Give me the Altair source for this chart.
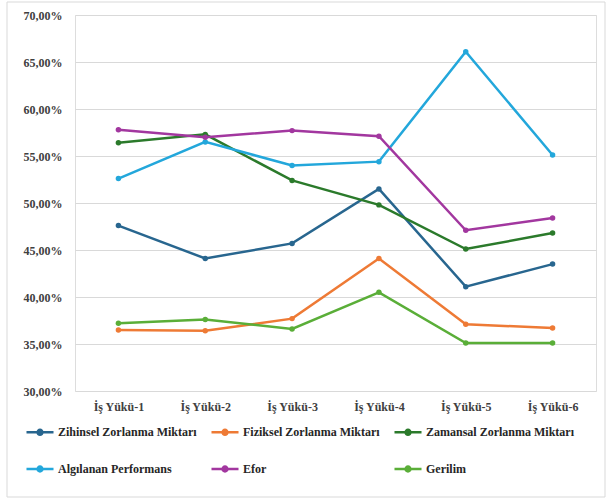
import altair as alt
import pandas as pd

# Workload stages on the x axis
stages = ["İş Yükü-1", "İş Yükü-2", "İş Yükü-3", "İş Yükü-4", "İş Yükü-5", "İş Yükü-6"]

# Series names and their colours
series = [
    "Zihinsel Zorlanma Miktarı",
    "Fiziksel Zorlanma Miktarı",
    "Zamansal Zorlanma Miktarı",
    "Algılanan Performans",
    "Efor",
    "Gerilim",
]
colors = ["#28668f", "#ee7a35", "#2b7a2b", "#23a7db", "#a2379f", "#5aae38"]

# Percent values per series, one per stage
zihinsel = [47.6, 44.1, 45.7, 51.5, 41.1, 43.5]
fiziksel = [36.5, 36.4, 37.7, 44.1, 37.1, 36.7]
zamansal = [56.4, 57.3, 52.4, 49.8, 45.1, 46.8]
algilanan = [52.6, 56.5, 54.0, 54.4, 66.1, 55.1]
efor = [57.8, 57.0, 57.7, 57.1, 47.1, 48.4]
gerilim = [37.2, 37.6, 36.6, 40.5, 35.1, 35.1]

values = [zihinsel, fiziksel, zamansal, algilanan, efor, gerilim]
rows = []
for name, vals in zip(series, values):
    for stage, v in zip(stages, vals):
        rows.append({"seri": name, "asama": stage, "deger": v})
df = pd.DataFrame(rows)

# The legend grid fills column by column (2 rows), so interleave the
# series to read left-to-right across the rows.
legend_order = [series[i] for i in (0, 3, 1, 4, 2, 5)]
legend_colors = [colors[i] for i in (0, 3, 1, 4, 2, 5)]

FONT = "Liberation Serif"
TEXT = "#404040"

color = alt.Color(
    "seri:N",
    scale=alt.Scale(domain=legend_order, range=legend_colors),
    sort=legend_order,
    legend=alt.Legend(
        title=None,
        orient="none",
        legendX=-50,
        legendY=402,
        columns=3,
        columnPadding=9,
        rowPadding=14,
        symbolType="M-1,0L1,0M-0.18,0A0.18,0.18 0 1,1 0.18,0A0.18,0.18 0 1,1 -0.18,0",
        symbolSize=730,
        symbolStrokeWidth=2.5,
        labelFont=FONT,
        labelFontWeight="bold",
        labelFontSize=12,
        labelColor="#262626",
        labelOffset=3,
        labelLimit=200,
    ),
)

x = alt.X(
    "asama:N",
    sort=stages,
    scale=alt.Scale(type="point", padding=0.5),
    axis=alt.Axis(
        title=None,
        labelAngle=0,
        labelFont=FONT,
        labelFontWeight="bold",
        labelFontSize=12,
        labelColor=TEXT,
        labelPadding=10,
        ticks=False,
        domain=False,
        grid=False,
    ),
)

y = alt.Y(
    "deger:Q",
    scale=alt.Scale(domain=[30, 70], nice=False, zero=False),
    axis=alt.Axis(
        title=None,
        values=[30, 35, 40, 45, 50, 55, 60, 65, 70],
        labelExpr="replace(format(datum.value, '.2f'), '.', ',') + '%'",
        labelFont=FONT,
        labelFontWeight="bold",
        labelFontSize=12,
        labelColor=TEXT,
        labelPadding=13,
        ticks=False,
        domain=False,
        gridColor="#d9d9d9",
        gridWidth=1,
    ),
)

base = alt.Chart(df).encode(x=x, y=y, color=color)
lines = base.mark_line(strokeWidth=2.5)
points = base.mark_circle(size=30, opacity=1)

# Light frame around the whole figure
frame = alt.Chart(pd.DataFrame({"k": [0]})).mark_rect(
    fill=None, stroke="#d9d9d9", strokeWidth=1
).encode(
    x=alt.value(-68), x2=alt.value(530), y=alt.value(-13), y2=alt.value(482)
)

chart = (
    alt.layer(frame, lines, points)
    .properties(
        width=521,
        height=376,
        padding={"left": 75, "top": 15, "right": 15, "bottom": 112},
        autosize=alt.AutoSizeParams(type="none"),
    )
    .configure_view(stroke=None)
    .configure(background="white")
)

chart.save("out.html", embed_options={"renderer": "svg", "actions": False})
